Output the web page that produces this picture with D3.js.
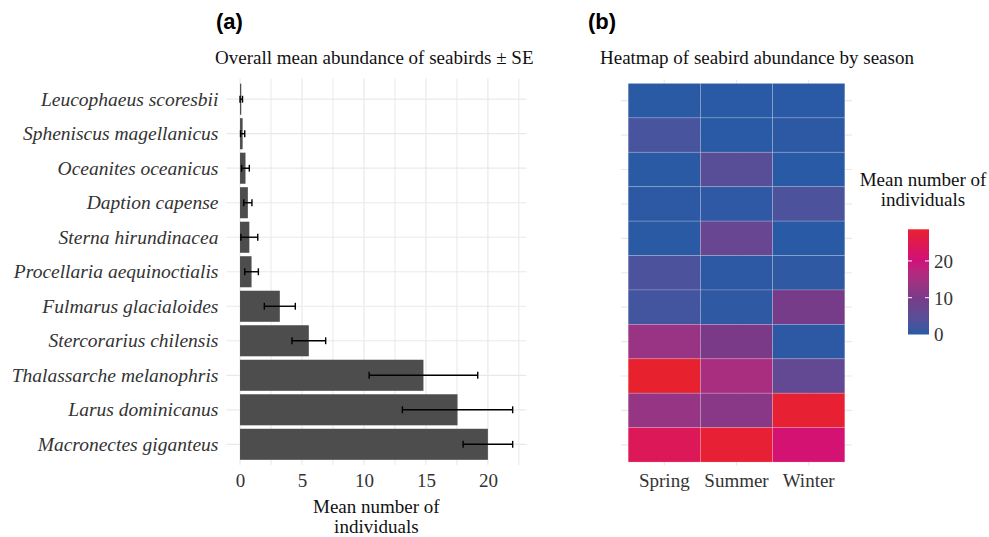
<!DOCTYPE html>
<html>
<head>
<meta charset="utf-8">
<script src="https://cdn.jsdelivr.net/npm/d3@7"></script>
<style>
  html, body { margin: 0; padding: 0; background: #fff; }
  svg { display: block; }
</style>
</head>
<body>
<svg id="chart" width="989" height="537"></svg>
<script>
// ---------------- DATA ----------------
const species = [
  "Leucophaeus scoresbii",
  "Spheniscus magellanicus",
  "Oceanites oceanicus",
  "Daption capense",
  "Sterna hirundinacea",
  "Procellaria aequinoctialis",
  "Fulmarus glacialoides",
  "Stercorarius chilensis",
  "Thalassarche melanophris",
  "Larus dominicanus",
  "Macronectes giganteus"
];
const meanValues = [0.10, 0.21, 0.44, 0.63, 0.75, 0.93, 3.21, 5.55, 14.8, 17.55, 20.0];
const seValues   = [0.10, 0.17, 0.31, 0.33, 0.68, 0.55, 1.25, 1.36, 4.38, 4.45, 2.0];
const xTicks = [0, 5, 10, 15, 20];

const seasons = ["Spring", "Summer", "Winter"];
const springValues = [0.2, 2.5, 0.2, 0.3, 0.2, 3.0, 2.0, 13.5, 28.6, 13.0, 24.0];
const summerValues = [0.1, 0.1, 4.5, 0.4, 7.0, 0.3, 0.5, 10.0, 15.5, 11.5, 28.0];
const winterValues = [0.1, 0.3, 0.0, 3.0, 0.0, 0.5, 9.5, 0.3, 6.0, 28.2, 21.0];
const legendTicks = [0, 10, 20];

// ---------------- SETUP ----------------
const SERIF = '"Liberation Serif", "Times New Roman", serif';
const SANS = '"Liberation Sans", Arial, sans-serif';
const svg = d3.select("#chart").style("font-family", SERIF);
const gridColor = "#ebe8e8";
const textColor = "#333333";

// ---------------- PANEL (a) ----------------
const aLeft = 226.4, aRight = 526.3, aTop = 78.5, aBottom = 465;
const x = d3.scaleLinear().domain([-1.1, 23.1]).range([aLeft, aRight]);
const y = d3.scaleBand().domain(species).range([aTop, aBottom])
  .paddingInner(0.1).paddingOuter(0.15);
const yc = d => y(d) + y.bandwidth() / 2;

const gA = svg.append("g");
const minorTicks = d3.range(2.5, 23, 5);
gA.selectAll("line.vminor").data(minorTicks).join("line")
  .attr("x1", d => x(d)).attr("x2", d => x(d))
  .attr("y1", aTop).attr("y2", aBottom)
  .attr("stroke", gridColor).attr("stroke-width", 1);
gA.selectAll("line.vmajor").data(xTicks).join("line")
  .attr("x1", d => x(d)).attr("x2", d => x(d))
  .attr("y1", aTop).attr("y2", aBottom)
  .attr("stroke", gridColor).attr("stroke-width", 1.2);
gA.selectAll("line.hmajor").data(species).join("line")
  .attr("x1", aLeft).attr("x2", aRight)
  .attr("y1", d => yc(d)).attr("y2", d => yc(d))
  .attr("stroke", gridColor).attr("stroke-width", 1.2);

// bars
gA.selectAll("rect.bar").data(species).join("rect")
  .attr("x", x(0))
  .attr("y", d => y(d))
  .attr("width", (d, i) => x(meanValues[i]) - x(0))
  .attr("height", y.bandwidth())
  .attr("fill", "#4d4d4d");

// error bars
const capH = y.step() * 0.1;
const eb = gA.selectAll("g.err").data(species).join("g");
eb.append("line")
  .attr("x1", (d, i) => x(meanValues[i] - seValues[i]))
  .attr("x2", (d, i) => x(meanValues[i] + seValues[i]))
  .attr("y1", d => yc(d)).attr("y2", d => yc(d))
  .attr("stroke", "#000").attr("stroke-width", 1.4);
eb.append("line")
  .attr("x1", (d, i) => x(meanValues[i] - seValues[i]))
  .attr("x2", (d, i) => x(meanValues[i] - seValues[i]))
  .attr("y1", d => yc(d) - capH).attr("y2", d => yc(d) + capH)
  .attr("stroke", "#000").attr("stroke-width", 1.4);
eb.append("line")
  .attr("x1", (d, i) => x(meanValues[i] + seValues[i]))
  .attr("x2", (d, i) => x(meanValues[i] + seValues[i]))
  .attr("y1", d => yc(d) - capH).attr("y2", d => yc(d) + capH)
  .attr("stroke", "#000").attr("stroke-width", 1.4);

// axes (text only, theme_minimal)
const xAxis = d3.axisBottom(x).tickValues(xTicks).tickSize(0).tickPadding(0);
const xg = gA.append("g").attr("transform", `translate(0,${aBottom})`).call(xAxis);
xg.select(".domain").remove();
xg.selectAll("text").attr("font-size", 19).attr("fill", textColor)
  .style("font-family", SERIF).attr("dy", null).attr("y", 22);

const yAxis = d3.axisLeft(y).tickSize(0).tickPadding(0);
const yg = gA.append("g").attr("transform", `translate(${aLeft - 8},0)`).call(yAxis);
yg.select(".domain").remove();
yg.selectAll("text").attr("font-size", 19.5).attr("fill", textColor)
  .style("font-style", "italic").style("font-family", SERIF)
  .attr("dy", "0.34em");

gA.append("text").attr("x", (aLeft + aRight) / 2).attr("y", 513)
  .attr("text-anchor", "middle").attr("font-size", 19).attr("fill", "#111")
  .text("Mean number of");
gA.append("text").attr("x", (aLeft + aRight) / 2).attr("y", 533)
  .attr("text-anchor", "middle").attr("font-size", 19).attr("fill", "#111")
  .text("individuals");

gA.append("text").attr("x", 215).attr("y", 64)
  .attr("font-size", 19).attr("fill", "#111")
  .text("Overall mean abundance of seabirds \u00B1 SE");
gA.append("text").attr("x", 216).attr("y", 29)
  .style("font-family", SANS).attr("font-weight", "bold")
  .attr("font-size", 22).attr("fill", "#000").text("(a)");

// ---------------- PANEL (b) ----------------
const bLeft = 621, bRight = 852, bTop = 80, bBottom = 465.5;
const hx = d3.scaleBand().domain(seasons).range([bLeft, bRight]).paddingInner(0).paddingOuter(0.1);
const hy = d3.scaleBand().domain(species).range([bTop, bBottom]).paddingInner(0).paddingOuter(0.1);
const vmax = d3.max([...springValues, ...summerValues, ...winterValues]);
const color = d3.scaleLinear()
  .domain([0, 0.35 * vmax, 0.7 * vmax, vmax])
  .range(["#285aa5", "#7a3a88", "#d0107a", "#e8212f"])
  .interpolate(d3.interpolateLab);

const cells = [];
species.forEach((s, i) => {
  cells.push({ sp: s, season: "Spring", v: springValues[i] });
  cells.push({ sp: s, season: "Summer", v: summerValues[i] });
  cells.push({ sp: s, season: "Winter", v: winterValues[i] });
});

const gB = svg.append("g");
gB.selectAll("line.hv").data(seasons).join("line")
  .attr("x1", d => hx(d) + hx.bandwidth() / 2).attr("x2", d => hx(d) + hx.bandwidth() / 2)
  .attr("y1", bTop).attr("y2", bBottom)
  .attr("stroke", gridColor).attr("stroke-width", 1.2);
gB.selectAll("line.hh").data(species).join("line")
  .attr("x1", bLeft).attr("x2", bRight)
  .attr("y1", d => hy(d) + hy.bandwidth() / 2).attr("y2", d => hy(d) + hy.bandwidth() / 2)
  .attr("stroke", gridColor).attr("stroke-width", 1.2);

gB.selectAll("rect.cell").data(cells).join("rect")
  .attr("x", d => hx(d.season)).attr("y", d => hy(d.sp))
  .attr("width", hx.bandwidth()).attr("height", hy.bandwidth())
  .attr("fill", d => color(d.v))
  .attr("stroke", "rgba(255,255,255,0.22)").attr("stroke-width", 0.8);

const hxAxis = d3.axisBottom(hx).tickSize(0).tickPadding(0);
const hxg = gB.append("g").attr("transform", `translate(0,${bBottom})`).call(hxAxis);
hxg.select(".domain").remove();
hxg.selectAll("text").attr("font-size", 19).attr("fill", textColor)
  .style("font-family", SERIF).attr("dy", null).attr("y", 21);

gB.append("text").attr("x", 600).attr("y", 64)
  .attr("font-size", 19).attr("fill", "#111")
  .text("Heatmap of seabird abundance by season");
gB.append("text").attr("x", 588).attr("y", 29)
  .style("font-family", SANS).attr("font-weight", "bold")
  .attr("font-size", 22).attr("fill", "#000").text("(b)");

// legend
const lgX = 908, lgW = 21, lgTop = 229.3, lgBottom = 334.5;
const ly = d3.scaleLinear().domain([0, vmax]).range([lgBottom, lgTop]);
const defs = svg.append("defs");
const grad = defs.append("linearGradient").attr("id", "lg")
  .attr("x1", 0).attr("y1", 1).attr("x2", 0).attr("y2", 0);
d3.range(0, 1.0001, 0.05).forEach(t => {
  grad.append("stop").attr("offset", t).attr("stop-color", color(t * vmax));
});
gB.append("rect").attr("x", lgX).attr("y", lgTop).attr("width", lgW)
  .attr("height", lgBottom - lgTop).attr("fill", "url(#lg)");
legendTicks.forEach(t => {
  if (t > 0) {
    gB.append("line").attr("x1", lgX).attr("x2", lgX + 4)
      .attr("y1", ly(t)).attr("y2", ly(t)).attr("stroke", "#fff").attr("stroke-width", 1);
    gB.append("line").attr("x1", lgX + lgW - 4).attr("x2", lgX + lgW)
      .attr("y1", ly(t)).attr("y2", ly(t)).attr("stroke", "#fff").attr("stroke-width", 1);
  }
  gB.append("text").attr("x", 934).attr("y", ly(t)).attr("dy", "0.36em")
    .attr("font-size", 19).attr("fill", textColor).text(t);
});
gB.append("text").attr("x", 923).attr("y", 186).attr("text-anchor", "middle")
  .attr("font-size", 19).attr("fill", "#111").text("Mean number of");
gB.append("text").attr("x", 923).attr("y", 206).attr("text-anchor", "middle")
  .attr("font-size", 19).attr("fill", "#111").text("individuals");
</script>
</body>
</html>
